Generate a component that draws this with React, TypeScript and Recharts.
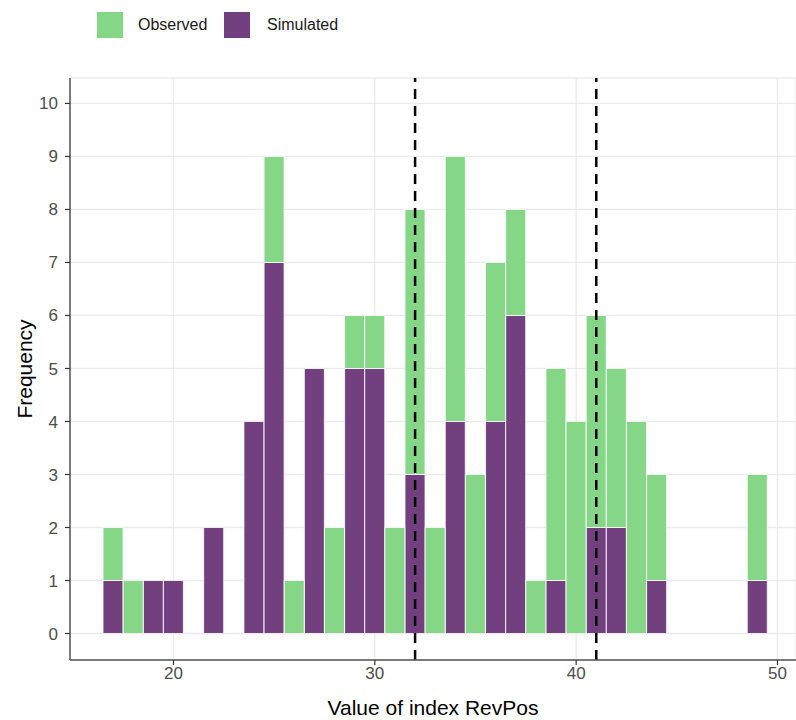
import React from 'react';
import { BarChart, Bar, XAxis, YAxis, CartesianGrid, ReferenceLine, Legend } from 'recharts';

// histogram bins (bin centres, width 1)
const bins = [17, 18, 19, 20, 21, 22, 23, 24, 25, 26, 27, 28, 29, 30, 31, 32, 33, 34, 35, 36, 37, 38, 39, 40, 41, 42, 43, 44, 45, 46, 47, 48, 49];
const simulated = [1, 0, 1, 1, 0, 2, 0, 4, 7, 0, 5, 0, 5, 5, 0, 3, 0, 4, 0, 4, 6, 0, 1, 0, 2, 2, 0, 1, 0, 0, 0, 0, 1];
const observed = [1, 1, 0, 0, 0, 0, 0, 0, 2, 1, 0, 2, 1, 1, 2, 5, 2, 5, 3, 3, 2, 1, 4, 4, 4, 3, 4, 2, 0, 0, 0, 0, 2];

const xTicks = [20, 30, 40, 50];
const xMinorTicks = [15, 25, 35, 45];
const yTicks = [0, 1, 2, 3, 4, 5, 6, 7, 8, 9, 10];
const cutoffs = [32, 41];

const data = bins.map((b, i) => ({ bin: b, simulated: simulated[i], observed: observed[i] }));

const GREEN = '#86D687';
const PURPLE = '#72407E';

const legendItems = [
  { label: 'Observed', color: GREEN, x: 97, textX: 138 },
  { label: 'Simulated', color: PURPLE, x: 224, textX: 267 },
];

const LegendBox = () => (
  <div style={{ position: 'relative', width: 796, height: 78 }}>
    {legendItems.map((it) => (
      <React.Fragment key={it.label}>
        <div style={{ position: 'absolute', left: it.x, top: 12, width: 26, height: 26, background: it.color }} />
        <div style={{ position: 'absolute', left: it.textX, top: 14, fontSize: 16, lineHeight: '22px', color: '#1a1a1a' }}>
          {it.label}
        </div>
      </React.Fragment>
    ))}
  </div>
);

export default function App() {
  return (
    <div style={{ position: 'absolute', left: 0, top: 0, fontFamily: '"Liberation Sans", Arial, sans-serif' }}>
      <BarChart width={796} height={720} data={data} margin={{ top: 0, right: 0, bottom: 0, left: 0 }}>
        <Legend verticalAlign="top" align="left" content={() => <LegendBox />} wrapperStyle={{ left: 0, top: 0 }} />
        <CartesianGrid xAxisId="top" horizontal={false} stroke="#F3F3F3" strokeWidth={1.2} />
        <CartesianGrid stroke="#EBEBEB" strokeWidth={1.3} />
        <XAxis
          xAxisId="top"
          orientation="top"
          type="number"
          dataKey="bin"
          domain={[14.86, 50.92]}
          allowDataOverflow
          ticks={xMinorTicks}
          tick={false}
          tickLine={false}
          height={0}
          axisLine={{ stroke: '#555', strokeWidth: 1.5 }}
        />
        <XAxis
          type="number"
          dataKey="bin"
          domain={[14.86, 50.92]}
          allowDataOverflow
          ticks={xTicks}
          tickSize={5}
          height={60}
          tick={{ fill: '#4D4D4D', fontSize: 17 }}
          tickLine={{ stroke: '#333', strokeWidth: 1.2 }}
          axisLine={{ stroke: '#555', strokeWidth: 1.5 }}
          label={{ value: 'Value of index RevPos', position: 'insideBottom', offset: 5, fill: '#000', fontSize: 21 }}
        />
        <YAxis
          type="number"
          domain={[-0.5, 10.48]}
          allowDataOverflow
          ticks={yTicks}
          width={70}
          tickSize={5}
          tickMargin={7}
          tick={{ fill: '#4D4D4D', fontSize: 17 }}
          tickLine={{ stroke: '#333', strokeWidth: 1.2 }}
          axisLine={{ stroke: '#555', strokeWidth: 1.5 }}
          label={{ value: 'Frequency', angle: -90, position: 'insideLeft', offset: 25, fill: '#000', fontSize: 21, style: { textAnchor: 'middle' } }}
        />
        <Bar dataKey="simulated" stackId="a" fill={PURPLE} stroke="#fff" strokeWidth={0.8} barSize={20} isAnimationActive={false} />
        <Bar dataKey="observed" stackId="a" fill={GREEN} stroke="#fff" strokeWidth={0.8} barSize={20} isAnimationActive={false} />
        {cutoffs.map((c) => (
          <ReferenceLine key={c} x={c} stroke="#000" strokeWidth={2.5} strokeDasharray="10 7" />
        ))}
      </BarChart>
    </div>
  );
}
